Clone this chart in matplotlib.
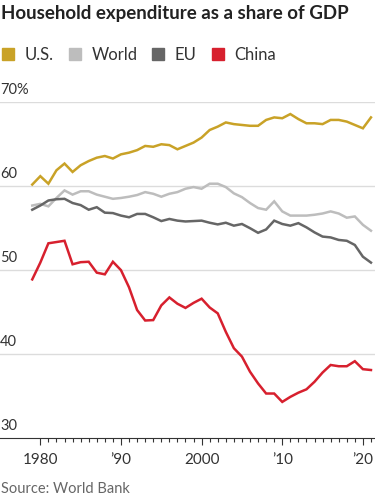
import matplotlib.pyplot as plt
from matplotlib.lines import Line2D
from matplotlib.transforms import blended_transform_factory

plt.rcParams['font.family'] = ['Lato', 'DejaVu Sans']

years = list(range(1979, 2022))

us = [60.2, 61.2, 60.3, 61.9, 62.7, 61.7, 62.5, 63.0, 63.4, 63.6,
      63.3, 63.8, 64.0, 64.3, 64.8, 64.7, 65.0, 64.9, 64.4, 64.8,
      65.2, 65.8, 66.7, 67.1, 67.6, 67.4, 67.3, 67.2, 67.2, 67.9,
      68.2, 68.1, 68.6, 68.0, 67.5, 67.5, 67.4, 67.9, 67.9, 67.7,
      67.3, 66.9, 68.2]

world = [57.7, 57.9, 57.6, 58.6, 59.5, 59.0, 59.4, 59.4, 59.0, 58.75,
         58.5, 58.6, 58.75, 58.95, 59.3, 59.1, 58.75, 59.1, 59.3, 59.7,
         59.9, 59.7, 60.3, 60.3, 59.9, 59.15, 58.7, 58.0, 57.4, 57.2,
         58.2, 57.0, 56.5, 56.5, 56.5, 56.6, 56.75, 57.0, 56.75, 56.25,
         56.4, 55.4, 54.7]

eu = [57.2, 57.7, 58.3, 58.45, 58.5, 58.0, 57.75, 57.2, 57.5, 56.85,
      56.8, 56.5, 56.3, 56.7, 56.7, 56.3, 55.85, 56.1, 55.9, 55.8,
      55.85, 55.9, 55.65, 55.45, 55.65, 55.3, 55.5, 55.0, 54.45, 54.85,
      55.9, 55.5, 55.3, 55.6, 55.1, 54.5, 54.0, 53.9, 53.6, 53.5,
      53.0, 51.6, 50.9]

china = [48.9, 50.9, 53.2, 53.35, 53.5, 50.7, 50.95, 51.0, 49.7, 49.5,
         51.0, 50.0, 47.95, 45.25, 44.0, 44.05, 45.8, 46.75, 46.0, 45.5,
         46.1, 46.6, 45.55, 44.85, 42.65, 40.7, 39.7, 37.9, 36.5, 35.3,
         35.3, 34.3, 34.9, 35.4, 35.8, 36.7, 37.8, 38.7, 38.55, 38.55,
         39.15, 38.2, 38.1]

series_names = ['U.S.', 'World', 'EU', 'China']
series_colors = ['#c9a227', '#bdbdbd', '#666666', '#d7202e']

y_ticks = [30, 40, 50, 60, 70]
y_labels = ['30', '40', '50', '60', '70%']
x_ticks = [1980, 1990, 2000, 2010, 2020]
x_labels = ['1980', '\u201990', '2000', '\u201910', '\u201920']

fig = plt.figure(figsize=(3.75, 5), dpi=100)
ax = fig.add_axes([0, 0.124, 1, 0.6714])

for name, vals, col in zip(series_names, [us, world, eu, china], series_colors):
    ax.plot(years, vals, color=col, lw=1.8, solid_joinstyle='miter', zorder=3)

ax.set_xlim(1975, 2021.5)
ax.set_ylim(30, 70)

# gridlines + labels sitting on top of them
for v in y_ticks[1:]:
    ax.axhline(v, color='#dcdcdc', lw=1, zorder=1)
trans = blended_transform_factory(ax.transAxes, ax.transData)
for v, lab in zip(y_ticks, y_labels):
    ax.text(0.0, v + 0.6, lab, transform=trans, ha='left', va='bottom',
            fontsize=10.5, color='#333333', clip_on=False)

for s in ['top', 'right', 'left']:
    ax.spines[s].set_visible(False)
ax.spines['bottom'].set_color('#333333')
ax.spines['bottom'].set_linewidth(0.8)
ax.set_yticks([])

ax.set_xticks(x_ticks)
ax.set_xticklabels(x_labels, fontsize=11, color='#333333')
ax.set_xticks(years[1:], minor=True)
ax.tick_params(axis='x', which='major', direction='out', length=5, width=0.8,
               color='#333333', pad=6)
ax.tick_params(axis='x', which='minor', direction='out', length=3, width=0.8,
               color='#333333')

fig.text(0.003, 0.972, 'Household expenditure as a share of GDP',
         fontsize=13.5, fontweight='bold', color='#222222', ha='left', va='center')

handles = [Line2D([], [], marker='s', linestyle='none', markersize=9,
                  markerfacecolor=c, markeredgecolor=c) for c in series_colors]
fig.legend(handles, series_names, loc='center left', bbox_to_anchor=(-0.04, 0.89),
           ncol=4, frameon=False, fontsize=12, handletextpad=0.5,
           columnspacing=0.75, handlelength=1.0, labelcolor='#333333')

fig.text(0.003, 0.022, 'Source: World Bank', fontsize=10.5,
         color='#666666', ha='left', va='center')

fig.savefig('out.png', dpi=100)
